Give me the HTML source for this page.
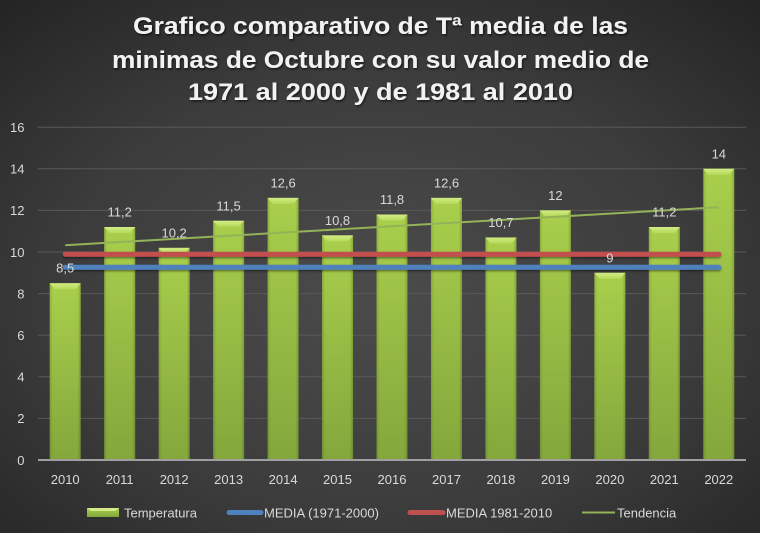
<!DOCTYPE html>
<html><head><meta charset="utf-8"><style>
html,body{margin:0;padding:0;background:#333;}
svg{display:block;}
text{font-family:"Liberation Sans",sans-serif;}
</style></head><body>
<svg width="760" height="533" viewBox="0 0 760 533" xmlns="http://www.w3.org/2000/svg">
<defs>
<radialGradient id="bg" cx="50%" cy="55%" r="75%">
<stop offset="0" stop-color="#4b4b4b"/>
<stop offset="0.55" stop-color="#3c3c3c"/>
<stop offset="1" stop-color="#232323"/>
</radialGradient>
<linearGradient id="bar" x1="0" y1="0" x2="0" y2="1">
<stop offset="0" stop-color="#a9cf4c"/>
<stop offset="1" stop-color="#84a73c"/>
</linearGradient>
<linearGradient id="side" x1="0" y1="0" x2="1" y2="0">
<stop offset="0" stop-color="#000" stop-opacity="0.14"/>
<stop offset="0.1" stop-color="#000" stop-opacity="0"/>
<stop offset="0.9" stop-color="#000" stop-opacity="0"/>
<stop offset="1" stop-color="#000" stop-opacity="0.18"/>
</linearGradient>
<linearGradient id="bev" x1="0" y1="0" x2="0" y2="1">
<stop offset="0" stop-color="#d2ec84"/>
<stop offset="1" stop-color="#b6d95a"/>
</linearGradient>
<filter id="sh" x="-5%" y="-20%" width="110%" height="140%">
<feDropShadow dx="1" dy="1.5" stdDeviation="1" flood-color="#000" flood-opacity="0.6"/>
</filter>
<filter id="lsh" x="-2%" y="-100%" width="104%" height="300%">
<feDropShadow dx="0" dy="1.5" stdDeviation="1" flood-color="#000" flood-opacity="0.45"/>
</filter>
<g id="bv"><polygon points="0,0 31,0 26,6 5,6" fill="url(#bev)"/></g>
</defs>
<rect x="0" y="0" width="760" height="533" fill="url(#bg)"/>

<!-- Title -->
<g fill="#f2f2f2" font-weight="bold" font-size="24" text-anchor="middle" filter="url(#sh)">
<text x="380.5" y="34" textLength="495" lengthAdjust="spacingAndGlyphs">Grafico comparativo de Tª media de las</text>
<text x="380.5" y="68" textLength="537" lengthAdjust="spacingAndGlyphs">minimas de Octubre con su valor medio de</text>
<text x="380.5" y="100" textLength="385" lengthAdjust="spacingAndGlyphs">1971 al 2000 y de 1981 al 2010</text>
</g>

<!-- gridlines -->
<g stroke="#595959" stroke-width="1">
<line x1="38" x2="746" y1="127.2" y2="127.2"/>
<line x1="38" x2="746" y1="168.8" y2="168.8"/>
<line x1="38" x2="746" y1="210.4" y2="210.4"/>
<line x1="38" x2="746" y1="252" y2="252"/>
<line x1="38" x2="746" y1="293.6" y2="293.6"/>
<line x1="38" x2="746" y1="335.2" y2="335.2"/>
<line x1="38" x2="746" y1="376.8" y2="376.8"/>
<line x1="38" x2="746" y1="418.4" y2="418.4"/>
</g>

<!-- y labels -->
<g fill="#d9d9d9" font-size="13" text-anchor="end">
<text x="24.5" y="132">16</text>
<text x="24.5" y="173.6">14</text>
<text x="24.5" y="215.2">12</text>
<text x="24.5" y="256.8">10</text>
<text x="24.5" y="298.4">8</text>
<text x="24.5" y="340">6</text>
<text x="24.5" y="381.6">4</text>
<text x="24.5" y="423.2">2</text>
<text x="24.5" y="464.8">0</text>
</g>

<!-- bars -->
<g>
<g transform="translate(49.7,283.2)"><rect width="31" height="176.8" fill="url(#bar)"/><rect width="31" height="176.8" fill="url(#side)"/><use href="#bv"/></g>
<g transform="translate(104.2,227.04)"><rect width="31" height="232.96" fill="url(#bar)"/><rect width="31" height="232.96" fill="url(#side)"/><use href="#bv"/></g>
<g transform="translate(158.65,247.84)"><rect width="31" height="212.16" fill="url(#bar)"/><rect width="31" height="212.16" fill="url(#side)"/><use href="#bv"/></g>
<g transform="translate(213.12,220.8)"><rect width="31" height="239.2" fill="url(#bar)"/><rect width="31" height="239.2" fill="url(#side)"/><use href="#bv"/></g>
<g transform="translate(267.58,197.92)"><rect width="31" height="262.08" fill="url(#bar)"/><rect width="31" height="262.08" fill="url(#side)"/><use href="#bv"/></g>
<g transform="translate(322.04,235.36)"><rect width="31" height="224.64" fill="url(#bar)"/><rect width="31" height="224.64" fill="url(#side)"/><use href="#bv"/></g>
<g transform="translate(376.5,214.56)"><rect width="31" height="245.44" fill="url(#bar)"/><rect width="31" height="245.44" fill="url(#side)"/><use href="#bv"/></g>
<g transform="translate(430.96,197.92)"><rect width="31" height="262.08" fill="url(#bar)"/><rect width="31" height="262.08" fill="url(#side)"/><use href="#bv"/></g>
<g transform="translate(485.42,237.44)"><rect width="31" height="222.56" fill="url(#bar)"/><rect width="31" height="222.56" fill="url(#side)"/><use href="#bv"/></g>
<g transform="translate(539.88,210.4)"><rect width="31" height="249.6" fill="url(#bar)"/><rect width="31" height="249.6" fill="url(#side)"/><use href="#bv"/></g>
<g transform="translate(594.35,272.8)"><rect width="31" height="187.2" fill="url(#bar)"/><rect width="31" height="187.2" fill="url(#side)"/><use href="#bv"/></g>
<g transform="translate(648.81,227.04)"><rect width="31" height="232.96" fill="url(#bar)"/><rect width="31" height="232.96" fill="url(#side)"/><use href="#bv"/></g>
<g transform="translate(703.27,168.8)"><rect width="31" height="291.2" fill="url(#bar)"/><rect width="31" height="291.2" fill="url(#side)"/><use href="#bv"/></g>
</g>

<!-- axis line -->
<line x1="38" x2="746" y1="460" y2="460" stroke="#a0a0a0" stroke-width="2"/>

<!-- mean lines -->
<g filter="url(#lsh)">
<line x1="65.2" x2="718.8" y1="254.2" y2="254.2" stroke="#c0504d" stroke-width="5" stroke-linecap="round"/>
<line x1="65.2" x2="718.8" y1="267.3" y2="267.3" stroke="#4f81bd" stroke-width="5" stroke-linecap="round"/>
</g>

<!-- trend -->
<line x1="65.2" y1="245.2" x2="718.8" y2="207.3" stroke="#93b358" stroke-width="2"/>

<!-- data labels -->
<g fill="#d9d9d9" font-size="13" text-anchor="middle">
<text x="65.2" y="272.7">8,5</text>
<text x="119.7" y="216.5">11,2</text>
<text x="174.15" y="237.3">10,2</text>
<text x="228.6" y="210.3">11,5</text>
<text x="283.1" y="187.4">12,6</text>
<text x="337.5" y="224.9">10,8</text>
<text x="392" y="204">11,8</text>
<text x="446.5" y="187.4">12,6</text>
<text x="500.9" y="226.9">10,7</text>
<text x="555.4" y="199.9">12</text>
<text x="609.85" y="262.3">9</text>
<text x="664.3" y="216.5">11,2</text>
<text x="718.8" y="158.3">14</text>
</g>

<!-- x labels -->
<g fill="#d9d9d9" font-size="13" text-anchor="middle">
<text x="65.2" y="484">2010</text>
<text x="119.7" y="484">2011</text>
<text x="174.15" y="484">2012</text>
<text x="228.6" y="484">2013</text>
<text x="283.1" y="484">2014</text>
<text x="337.5" y="484">2015</text>
<text x="392" y="484">2016</text>
<text x="446.5" y="484">2017</text>
<text x="500.9" y="484">2018</text>
<text x="555.4" y="484">2019</text>
<text x="609.85" y="484">2020</text>
<text x="664.3" y="484">2021</text>
<text x="718.8" y="484">2022</text>
</g>

<!-- legend -->
<g>
<rect x="87" y="508" width="32" height="9" fill="url(#bar)"/>
<polygon points="87,508 119,508 115,511 91,511" fill="#d6ea8a"/>
<text x="124" y="517.5" fill="#d9d9d9" font-size="13">Temperatura</text>
<line x1="229" x2="261" y1="512.5" y2="512.5" stroke="#4f81bd" stroke-width="5" stroke-linecap="round"/>
<text x="264" y="517.5" fill="#d9d9d9" font-size="13">MEDIA (1971-2000)</text>
<line x1="410" x2="443" y1="512.5" y2="512.5" stroke="#c0504d" stroke-width="5" stroke-linecap="round"/>
<text x="446" y="517.5" fill="#d9d9d9" font-size="13">MEDIA 1981-2010</text>
<line x1="582" x2="615" y1="512.5" y2="512.5" stroke="#93b358" stroke-width="2"/>
<text x="617" y="517.5" fill="#d9d9d9" font-size="13">Tendencia</text>
</g>
</svg>
</body></html>
